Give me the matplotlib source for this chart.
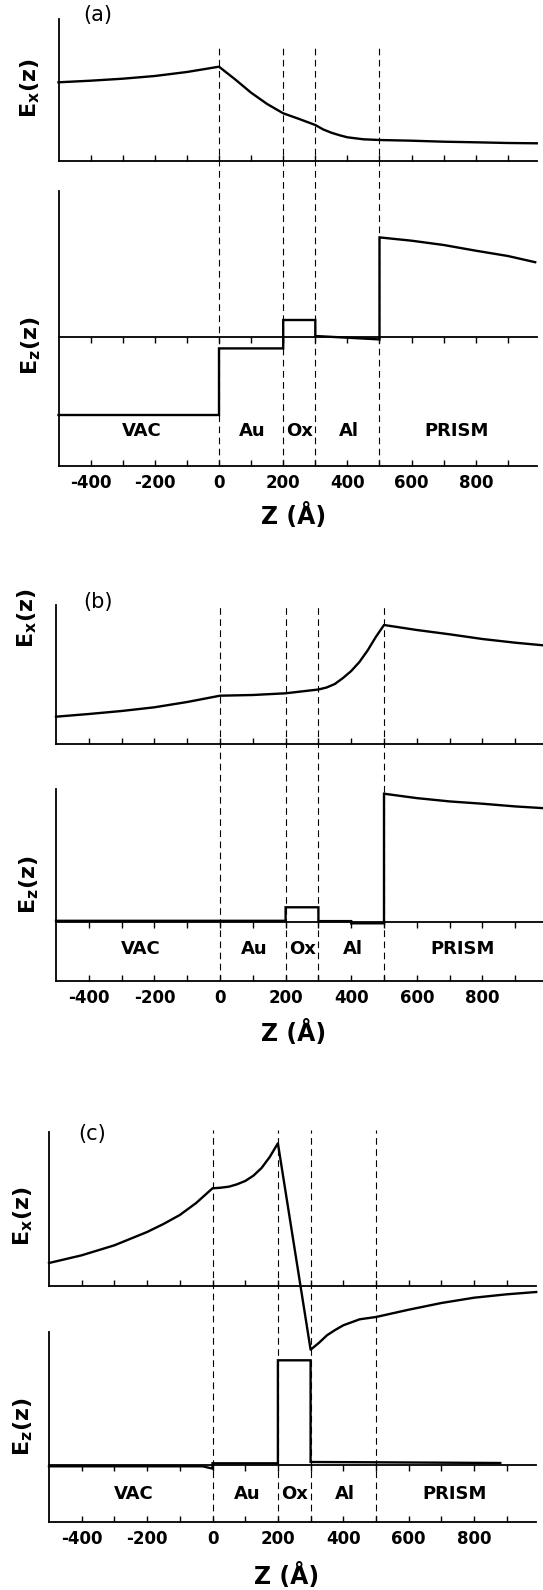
import matplotlib
matplotlib.use("Agg")
import matplotlib.pyplot as plt

plt.rcParams['font.family'] = ['DejaVu Sans']

# ---------------- data ----------------
boundaries = [0, 200, 300, 500]
region_names = ['VAC', 'Au', 'Ox', 'Al', 'PRISM']
region_pos = [-240, 105, 252, 405, 740]
tick_pos = list(range(-400, 1000, 100))
tick_label_pos = [-400, -200, 0, 200, 400, 600, 800]
tick_labels = ['-400', '-200', '0', '200', '400', '600', '800']
panel_tags = ['(a)', '(b)', '(c)']

# panel (a)
ex_a_z = [-500, -400, -300, -200, -100, 0, 25, 50, 100, 150, 200, 250, 300,
          325, 350, 375, 400, 450, 500, 600, 700, 800, 900, 990]
ex_a_v = [78.7, 80.3, 82.3, 85, 89, 94.3, 88, 81.7, 68.3, 57, 47.7, 42, 36,
          31.5, 28.3, 25.8, 23.7, 21.7, 21, 20.3, 19.3, 18.7, 18, 17.7]
ez_a_z = [-500, 0, 0, 200, 200, 300, 300, 500, 500, 600, 700, 800, 900, 985]
ez_a_v = [-78.3, -78.3, -11.7, -11.7, 16.7, 16.7, 0.7, -2.7, 99.3, 96, 91.7,
          86, 80.7, 74.5]

# panel (b)
ex_b_z = [-500, -400, -300, -200, -100, 0, 100, 200, 300, 325, 350, 375, 400,
          425, 450, 475, 500, 600, 700, 800, 900, 985]
ex_b_v = [27.3, 30, 33, 36.7, 42, 48.3, 49, 50.7, 54.5, 56.5, 60, 66, 73,
          82, 93.5, 107, 119, 114, 109.7, 105, 101.3, 98.7]
ez_b_z = [-500, 0, 200, 200, 300, 300, 400, 400, 500, 500, 600, 700, 800,
          900, 985]
ez_b_v = [0.8, 0.8, 0.8, 14.3, 14.3, 0.5, 0.5, -1.7, -1.7, 127.7, 123.3, 120,
          117.7, 115, 113.3]

# panel (c)
ex_c_z = [-500, -400, -300, -200, -150, -100, -50, 0, 25, 50, 75, 100, 125,
          150, 175, 200, 300, 325, 350, 375, 400, 450, 500, 600, 700, 800,
          900, 990]
ex_c_v = [23, 30.7, 40.7, 54, 62, 71, 83, 97.7, 98.3, 99.3, 101.7, 105,
          110.3, 118, 129, 142.7, -63.7, -57, -49.3, -44, -39.3, -33.3, -31,
          -23.7, -17, -11.7, -8.3, -6]
ez_c_z = [-500, -30, 0, 0, 200, 200, 300, 300, 500, 880]
ez_c_v = [-1, -1, -3.3, 2.0, 2.0, 105, 105, 3.3, 3.0, 2.3]

ex_data = [(ex_a_z, ex_a_v), (ex_b_z, ex_b_v), (ex_c_z, ex_c_v)]
ez_data = [(ez_a_z, ez_a_v), (ez_b_z, ez_b_v), (ez_c_z, ez_c_v)]

# ---------------- layout (pixels) ----------------
W, H = 543, 1590
layouts = [
    dict(x0=219.0, s=0.321, xmax=990,
         ex=(19, 161), ex_ylim=(0, 142),
         ez=(191, 466), ez_ylim=(-129.3, 145.7), dash_top=48,
         tag=(98, 15), exlab=(30, 88), ezlab=(31, 346),
         reg_y=431, zlab=(294, 516)),
    dict(x0=220.0, s=0.328, xmax=985,
         ex=(605, 744), ex_ylim=(0, 139),
         ez=(789, 981), ez_ylim=(-59.3, 132.4), dash_top=607,
         tag=(98, 602), exlab=(27, 618), ezlab=(29, 885),
         reg_y=949, zlab=(294, 1033)),
    dict(x0=212.5, s=0.327, xmax=990,
         ex=(1132, 1286), ex_ylim=(0, 154),
         ez=(1332, 1522), ez_ylim=(-56.7, 133.3), dash_top=1130,
         tag=(92, 1134), exlab=(23, 1216), ezlab=(23, 1427),
         reg_y=1494, zlab=(287, 1576)),
]

LW_CURVE = 1.7
LW_SPINE = 1.3
LW_DASH = 0.8
TICK_LEN = 4
TICK_W = 1.0

fig = plt.figure(figsize=(W / 100, H / 100), dpi=100)


def rect(l, r, t, b):
    return [l / W, 1 - b / H, (r - l) / W, (b - t) / H]


def ftext(x, y, s, **kw):
    fig.text(x / W, 1 - y / H, s, ha='center', va='center', **kw)


for i, L in enumerate(layouts):
    left = L['x0'] - 500 * L['s']
    right = L['x0'] + L['xmax'] * L['s']
    xlim = (-500, L['xmax'])

    # dashed boundary overlay
    ov = fig.add_axes(rect(left, right, L['dash_top'], L['ez'][1]))
    ov.set_xlim(*xlim)
    ov.set_ylim(0, 1)
    ov.axis('off')
    ov.set_zorder(0)
    for b in boundaries:
        ov.axvline(b, color='black', lw=LW_DASH, linestyle=(0, (6, 4)))

    # Ex axes
    ax1 = fig.add_axes(rect(left, right, L['ex'][0], L['ex'][1]))
    ax1.set_zorder(1)
    ax1.patch.set_visible(False)
    ax1.set_xlim(*xlim)
    ax1.set_ylim(*L['ex_ylim'])
    z, v = ex_data[i]
    ax1.plot(z, v, color='black', lw=LW_CURVE, clip_on=False,
             solid_joinstyle='round')
    for sp in ['top', 'right']:
        ax1.spines[sp].set_visible(False)
    for sp in ['left', 'bottom']:
        ax1.spines[sp].set_linewidth(LW_SPINE)
    ax1.set_yticks([])
    ax1.set_xticks(tick_pos)
    ax1.tick_params(axis='x', direction='in', length=TICK_LEN, width=TICK_W,
                    labelbottom=False)

    # Ez axes
    ax2 = fig.add_axes(rect(left, right, L['ez'][0], L['ez'][1]))
    ax2.set_zorder(1)
    ax2.patch.set_visible(False)
    ax2.set_xlim(*xlim)
    ax2.set_ylim(*L['ez_ylim'])
    z, v = ez_data[i]
    ax2.plot(z, v, color='black', lw=LW_CURVE, clip_on=False,
             solid_joinstyle='miter')
    for sp in ['top', 'right']:
        ax2.spines[sp].set_visible(False)
    for sp in ['left', 'bottom']:
        ax2.spines[sp].set_linewidth(LW_SPINE)
    ax2.set_yticks([])
    ax2.set_xticks(tick_pos)
    ax2.set_xticklabels([tick_labels[tick_label_pos.index(t)]
                         if t in tick_label_pos else '' for t in tick_pos],
                        fontweight='bold')
    ax2.tick_params(axis='x', direction='in', length=TICK_LEN, width=TICK_W,
                    labelsize=12, pad=6)
    y0, y1 = L['ez_ylim']
    frac = -y0 / (y1 - y0)
    sec = ax2.secondary_xaxis(frac)
    sec.set_xticks(tick_pos)
    sec.tick_params(axis='x', direction='out', length=TICK_LEN, width=TICK_W,
                    labeltop=False, labelbottom=False)
    for sp in sec.spines.values():
        sp.set_linewidth(LW_SPINE)

    # region labels
    for name, zp in zip(region_names, region_pos):
        ftext(L['x0'] + zp * L['s'], L['reg_y'], name, fontsize=13,
              fontweight='bold')

    # texts
    ftext(*L['tag'], panel_tags[i], fontsize=15)
    ftext(*L['exlab'], r'E$_\mathbf{x}$(z)', fontsize=16, rotation=90,
          fontweight='bold')
    ftext(*L['ezlab'], r'E$_\mathbf{z}$(z)', fontsize=16, rotation=90,
          fontweight='bold')
    ftext(*L['zlab'], 'Z (Å)', fontsize=17, fontweight='bold')

fig.savefig('out.png', dpi=100)
